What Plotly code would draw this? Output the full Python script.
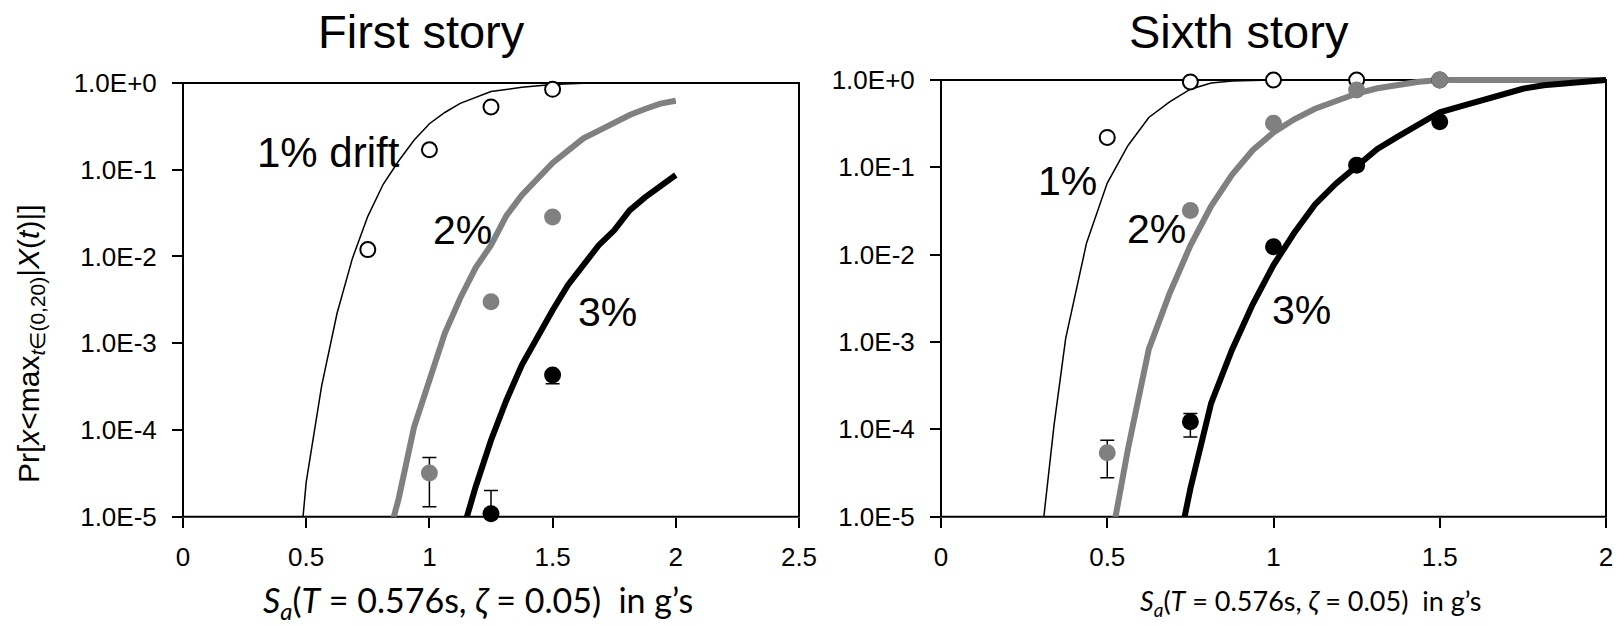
import plotly.graph_objects as go

# ---------------- data ----------------
# First story – fitted curves
L1_X = [0.48, 0.50, 0.5625, 0.625, 0.6875, 0.75, 0.8125, 0.875, 0.9375, 1.0, 1.0625, 1.125, 1.25, 1.375, 1.5, 1.625, 1.75, 2.0]
L1_P = [6.0e-6, 2.5e-5, 3.2e-4, 2.2e-3, 9.5e-3, 2.9e-2, 6.8e-2, 0.126, 0.219, 0.339, 0.457, 0.582, 0.798, 0.891, 0.959, 0.991, 1.0, 1.0]
L2_X = [0.84, 0.875, 0.9375, 1.0, 1.0625, 1.125, 1.1875, 1.25, 1.3125, 1.375, 1.4375, 1.5, 1.5625, 1.625, 1.6875, 1.75, 1.8125, 1.875, 1.9375, 2.0]
L2_P = [6.9e-6, 1.6e-5, 1.07e-4, 3.7e-4, 1.3e-3, 3.3e-3, 7.4e-3, 1.35e-2, 2.95e-2, 5.1e-2, 8.0e-2, 0.120, 0.166, 0.230, 0.282, 0.347, 0.427, 0.501, 0.578, 0.625]
L3_X = [1.14, 1.1875, 1.25, 1.3125, 1.375, 1.4375, 1.5, 1.5625, 1.625, 1.6875, 1.75, 1.8125, 1.875, 1.9375, 2.0]
L3_P = [7.6e-6, 2.2e-5, 7.6e-5, 2.2e-4, 5.6e-4, 1.2e-3, 2.4e-3, 4.7e-3, 8.1e-3, 1.35e-2, 2.0e-2, 3.4e-2, 4.8e-2, 6.5e-2, 8.7e-2]

# First story – simulation points
L1_PX = [0.75, 1.0, 1.25, 1.5]
L1_PP = [0.012, 0.17, 0.53, 0.845]
L2_PX = [1.0, 1.25, 1.5]
L2_PP = [3.2e-5, 3.0e-3, 2.85e-2]
L2_HI = [4.8e-5, 3.0e-3, 2.85e-2]
L2_LO = [1.3e-5, 3.0e-3, 2.85e-2]
L3_PX = [1.25, 1.5]
L3_PP = [1.08e-5, 4.3e-4]
L3_HI = [2.0e-5, 4.5e-4]
L3_LO = [1.08e-5, 3.4e-4]

# Sixth story – fitted curves
R1_X = [0.305, 0.3125, 0.34, 0.375, 0.4375, 0.5, 0.5625, 0.625, 0.6875, 0.75, 0.8125, 0.875, 1.0, 2.0]
R1_P = [7.1e-6, 1.26e-5, 1.12e-4, 1.1e-3, 1.35e-2, 6.6e-2, 0.178, 0.372, 0.562, 0.785, 0.923, 0.977, 1.0, 1.0]
R2_X = [0.52, 0.5625, 0.625, 0.6875, 0.75, 0.8125, 0.875, 0.9375, 1.0, 1.0625, 1.125, 1.1875, 1.25, 1.3125, 1.375, 1.4375, 1.5, 2.0]
R2_P = [7.9e-6, 6.0e-5, 8.3e-4, 3.6e-3, 1.27e-2, 3.6e-2, 8.2e-2, 0.157, 0.251, 0.355, 0.468, 0.582, 0.700, 0.804, 0.891, 0.955, 1.0, 1.0]
R3_X = [0.73, 0.75, 0.8125, 0.875, 0.9375, 1.0, 1.0625, 1.125, 1.1875, 1.25, 1.3125, 1.375, 1.4375, 1.5, 1.5625, 1.625, 1.6875, 1.75, 1.8125, 1.875, 1.9375, 2.0]
R3_P = [8.9e-6, 2.1e-5, 2.0e-4, 8.1e-4, 2.7e-3, 7.6e-3, 1.78e-2, 3.76e-2, 6.5e-2, 0.102, 0.162, 0.226, 0.309, 0.427, 0.50, 0.582, 0.676, 0.794, 0.871, 0.923, 0.966, 1.0]

# Sixth story – simulation points
R1_PX = [0.5, 0.75, 1.0, 1.25, 1.5]
R1_PP = [0.22, 0.95, 1.0, 1.0, 1.0]
R2_PX = [0.5, 0.75, 1.0, 1.25, 1.5]
R2_PP = [5.4e-5, 0.032, 0.32, 0.77, 1.0]
R2_HI = [7.5e-5, 0.032, 0.32, 0.77, 1.0]
R2_LO = [2.8e-5, 0.032, 0.32, 0.77, 1.0]
R3_PX = [0.75, 1.0, 1.25, 1.5]
R3_PP = [1.22e-4, 0.0123, 0.106, 0.333]
R3_HI = [1.52e-4, 0.0123, 0.106, 0.333]
R3_LO = [8.2e-5, 0.0123, 0.106, 0.333]

Y_TICKS = [1.0, 1e-1, 1e-2, 1e-3, 1e-4, 1e-5]
Y_TEXT = ["1.0E+0", "1.0E-1", "1.0E-2", "1.0E-3", "1.0E-4", "1.0E-5"]
L_XTICKS = [0, 0.5, 1, 1.5, 2, 2.5]
R_XTICKS = [0, 0.5, 1, 1.5, 2]

# ---------------- styling ----------------
PAGE_W, PAGE_H = 1623, 625
OFF = 8                      # default body margin of the html page
W, H = PAGE_W - OFF, PAGE_H - OFF
FONT = "Liberation Sans, Arial, sans-serif"
XFONT = "Lato, Open Sans, sans-serif"
GRAY = "#808080"
TOP_PAD = 0.045  # decades of room above 1.0 so lines on 1.0 aren't clipped

fig = go.Figure()


def curve(x, p, color, width, xa, ya):
    fig.add_trace(go.Scatter(x=x, y=p, mode="lines", line=dict(color=color, width=width),
                             xaxis=xa, yaxis=ya, showlegend=False, hoverinfo="skip"))


def points(x, p, fill, line_w, size, xa, ya, hi=None, lo=None):
    err = None
    if hi is not None:
        err = dict(type="data", symmetric=False,
                   array=[h - v for h, v in zip(hi, p)],
                   arrayminus=[v - l for v, l in zip(p, lo)],
                   color="black", thickness=1.5, width=7)
    fig.add_trace(go.Scatter(x=x, y=p, mode="markers", xaxis=xa, yaxis=ya,
                             marker=dict(symbol="circle", size=size, color=fill,
                                         line=dict(color="black" if line_w else fill, width=line_w)),
                             error_y=err, cliponaxis=False, showlegend=False, hoverinfo="skip"))


# First story
curve(L1_X, L1_P, "black", 1.5, "x", "y")
curve(L2_X, L2_P, GRAY, 6, "x", "y")
curve(L3_X, L3_P, "black", 6, "x", "y")
points(L1_PX, L1_PP, "white", 2, 15, "x", "y")
points(L2_PX, L2_PP, GRAY, 0, 17, "x", "y", L2_HI, L2_LO)
points(L3_PX, L3_PP, "black", 0, 17, "x", "y", L3_HI, L3_LO)

# Sixth story
curve(R1_X, R1_P, "black", 1.5, "x2", "y2")
curve(R2_X, R2_P, GRAY, 6, "x2", "y2")
curve(R3_X, R3_P, "black", 6, "x2", "y2")
points(R1_PX, R1_PP, "white", 2, 15, "x2", "y2")
points(R2_PX, R2_PP, GRAY, 0, 17, "x2", "y2", R2_HI, R2_LO)
points(R3_PX, R3_PP, "black", 0, 17, "x2", "y2", R3_HI, R3_LO)

tickfont = dict(family=FONT, size=26, color="black")


def xaxis(dom, rng, vals, anchor):
    return dict(domain=dom, range=rng, tickmode="array", tickvals=vals,
                ticktext=[f"{v:g}" for v in vals], ticks="outside", ticklen=10, tickwidth=2,
                tickcolor="black", showgrid=False, zeroline=False, showline=False,
                tickfont=tickfont, anchor=anchor, ticklabelstandoff=7, fixedrange=True,
                automargin=False)


def yaxis(dom, anchor):
    return dict(domain=dom, type="log", range=[-5, TOP_PAD], tickmode="array", tickvals=Y_TICKS,
                ticktext=Y_TEXT, ticks="outside", ticklen=10, tickwidth=2, tickcolor="black",
                showgrid=False, zeroline=False, showline=False, tickfont=tickfont,
                anchor=anchor, ticklabelstandoff=10, fixedrange=True, automargin=False)


# positions below are in page pixels (as measured on the reference)
def px_to_fx(px):
    return (px - OFF) / W


def px_to_fy(py):
    return 1 - (py - OFF) / H


# panel geometry in pixels (left, right, y of 1.0, y of 1e-5)
LP = (183, 799, 83, 516.7)
RP = (941, 1606, 80, 516.7)


def ydom(p):
    dec = (p[3] - p[2]) / 5.0
    top = p[2] - TOP_PAD * dec
    return [px_to_fy(p[3]), px_to_fy(top)]


frame_top = 5.0 / (5.0 + TOP_PAD)
shapes = []
for xr, yr in (("x domain", "y domain"), ("x2 domain", "y2 domain")):
    shapes.append(dict(type="rect", xref=xr, yref=yr, x0=0, x1=1, y0=0, y1=frame_top,
                       line=dict(color="black", width=2), fillcolor="rgba(0,0,0,0)", layer="below"))

ann = []


def text(x, y, s, size, family=FONT, angle=0):
    ann.append(dict(x=px_to_fx(x), y=px_to_fy(y), xref="paper", yref="paper", text=s,
                    showarrow=False, xanchor="center", yanchor="middle", textangle=angle,
                    font=dict(family=family, size=size, color="black")))


text(421, 32, "First story", 47)
text(1239, 32, "Sixth story", 47)
text(328, 152, "1% drift", 42)
text(462, 230, "2%", 41)
text(607, 312, "3%", 41)
text(1067, 181, "1%", 41)
text(1156, 229, "2%", 41)
text(1301, 310, "3%", 41)
text(31, 344, "Pr[<i>x</i>&#60;max<sub><i>t</i>∈(0,20)</sub>|<i>X</i>(<i>t</i>)|]", 30, angle=-90)
xt = "<i>S</i><sub><i>a</i></sub>(<i>T</i> = 0.576s, <i>ζ</i> = 0.05)&nbsp; in g’s"
text(478, 602, xt, 34, family=XFONT)
text(1311, 602, xt, 27, family=XFONT)

fig.update_layout(
    width=W, height=H, margin=dict(l=0, r=0, t=0, b=0, pad=0, autoexpand=False),
    paper_bgcolor="white", plot_bgcolor="rgba(0,0,0,0)",
    xaxis=xaxis([px_to_fx(LP[0]), px_to_fx(LP[1])], [0, 2.5], L_XTICKS, "y"),
    yaxis=yaxis(ydom(LP), "x"),
    xaxis2=xaxis([px_to_fx(RP[0]), px_to_fx(RP[1])], [0, 2], R_XTICKS, "y2"),
    yaxis2=yaxis(ydom(RP), "x2"),
    shapes=shapes, annotations=ann, showlegend=False,
)

fig.write_html("out.html", config={"displayModeBar": False})
